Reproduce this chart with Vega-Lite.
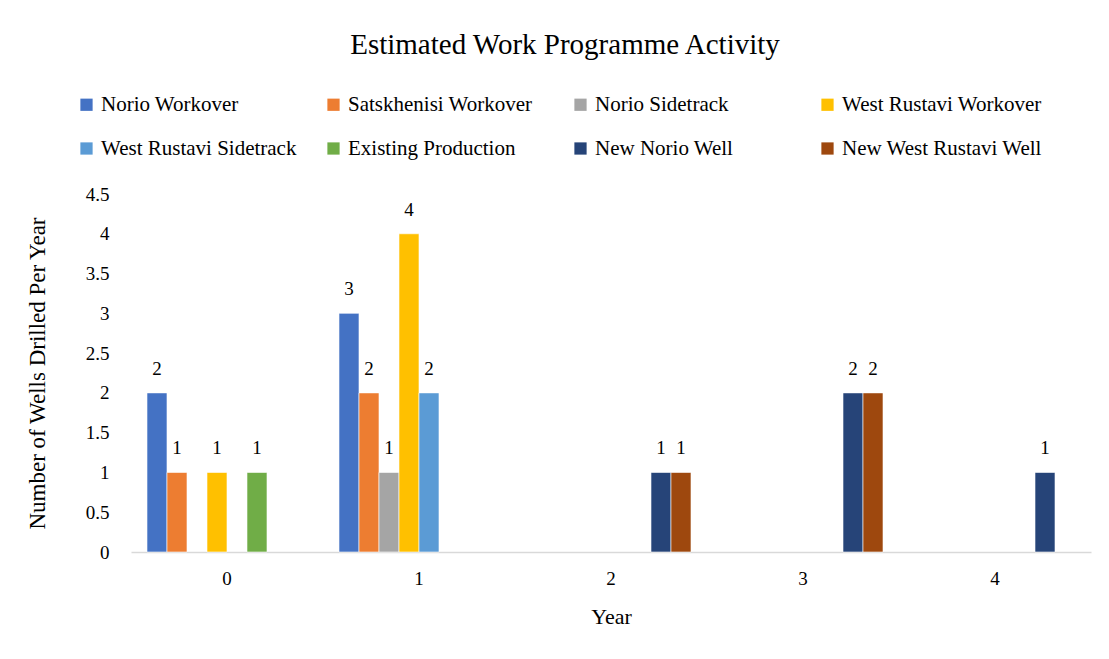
{
  "$schema": "https://vega.github.io/schema/vega-lite/v6.json",
  "autosize": {"type": "none"},
  "width": 960,
  "height": 358,
  "padding": {"left": 131, "top": 194, "right": 18, "bottom": 107},
  "background": "white",
  "config": {
    "font": "Liberation Serif",
    "view": {"stroke": null},
    "text": {"font": "Liberation Serif"},
    "axis": {"labelFont": "Liberation Serif", "titleFont": "Liberation Serif", "labelColor": "#000000", "titleColor": "#000000", "titleFontWeight": "normal"},
    "legend": {"labelFont": "Liberation Serif", "titleFont": "Liberation Serif"}
  },
  "title": {
    "text": "Estimated Work Programme Activity",
    "font": "Liberation Serif",
    "fontSize": 29,
    "fontWeight": "normal",
    "color": "#000000",
    "anchor": "middle",
    "frame": "group",
    "dx": -46,
    "baseline": "alphabetic",
    "offset": 11
  },
  "data": {
    "values": [
      {"year": "0", "series": "Norio Workover", "wells": 2},
      {"year": "0", "series": "Satskhenisi Workover", "wells": 1},
      {"year": "0", "series": "West Rustavi Workover", "wells": 1},
      {"year": "0", "series": "Existing Production", "wells": 1},
      {"year": "1", "series": "Norio Workover", "wells": 3},
      {"year": "1", "series": "Satskhenisi Workover", "wells": 2},
      {"year": "1", "series": "Norio Sidetrack", "wells": 1},
      {"year": "1", "series": "West Rustavi Workover", "wells": 4},
      {"year": "1", "series": "West Rustavi Sidetrack", "wells": 2},
      {"year": "2", "series": "New Norio Well", "wells": 1},
      {"year": "2", "series": "New West Rustavi Well", "wells": 1},
      {"year": "3", "series": "New Norio Well", "wells": 2},
      {"year": "3", "series": "New West Rustavi Well", "wells": 2},
      {"year": "4", "series": "New Norio Well", "wells": 1}
    ]
  },
  "encoding": {
    "x": {
      "field": "year",
      "type": "nominal",
      "sort": ["0", "1", "2", "3", "4"],
      "scale": {"domain": ["0", "1", "2", "3", "4"], "paddingInner": 0.16667, "paddingOuter": 0.08333},
      "axis": {
        "title": "Year",
        "titleFont": "Liberation Serif",
        "titleFontSize": 22,
        "titlePadding": 18,
        "labelFont": "Liberation Serif",
        "labelFontSize": 19,
        "labelAngle": 0,
        "labelPadding": 17,
        "ticks": false,
        "domainColor": "#d9d9d9",
        "domainWidth": 1.5
      }
    },
    "xOffset": {
      "field": "series",
      "type": "nominal",
      "scale": {
        "domain": ["Norio Workover", "Satskhenisi Workover", "Norio Sidetrack", "West Rustavi Workover", "West Rustavi Sidetrack", "Existing Production", "New Norio Well", "New West Rustavi Well"],
        "paddingInner": 0,
        "paddingOuter": 0
      }
    },
    "y": {
      "field": "wells",
      "type": "quantitative",
      "scale": {"domain": [0, 4.5]},
      "axis": {
        "title": "Number of Wells Drilled Per Year",
        "titleFont": "Liberation Serif",
        "titleFontSize": 23,
        "titlePadding": 36,
        "labelFont": "Liberation Serif",
        "labelFontSize": 19,
        "labelPadding": 22,
        "labelExpr": "'' + datum.value",
        "values": [0, 0.5, 1, 1.5, 2, 2.5, 3, 3.5, 4, 4.5],
        "ticks": false,
        "domain": false,
        "grid": false
      }
    }
  },
  "layer": [
    {
      "mark": {"type": "bar", "stroke": "white", "strokeWidth": 0.6},
      "encoding": {
        "color": {
          "field": "series",
          "type": "nominal",
          "scale": {
            "domain": ["Norio Workover", "Satskhenisi Workover", "Norio Sidetrack", "West Rustavi Workover", "West Rustavi Sidetrack", "Existing Production", "New Norio Well", "New West Rustavi Well"],
            "range": ["#4472C4", "#ED7D31", "#A5A5A5", "#FFC000", "#5B9BD5", "#70AD47", "#264478", "#9E480E"]
          },
          "legend": {
            "title": null,
            "orient": "none",
            "legendX": -55,
            "legendY": -100,
            "direction": "horizontal",
            "columns": 4,
            "gridAlign": "all",
            "columnPadding": 21,
            "rowPadding": 22,
            "padding": 0,
            "symbolType": "square",
            "symbolSize": 150,
            "symbolStrokeWidth": 0,
            "labelFont": "Liberation Serif",
            "labelFontSize": 21,
            "labelLimit": 300,
            "labelOffset": 4,
            "labelColor": "#000000"
          }
        }
      }
    },
    {
      "mark": {"type": "text", "baseline": "middle", "dy": -24, "fontSize": 19, "font": "Liberation Serif", "color": "#000000"},
      "encoding": {
        "text": {"field": "wells", "type": "quantitative"}
      }
    }
  ]
}
